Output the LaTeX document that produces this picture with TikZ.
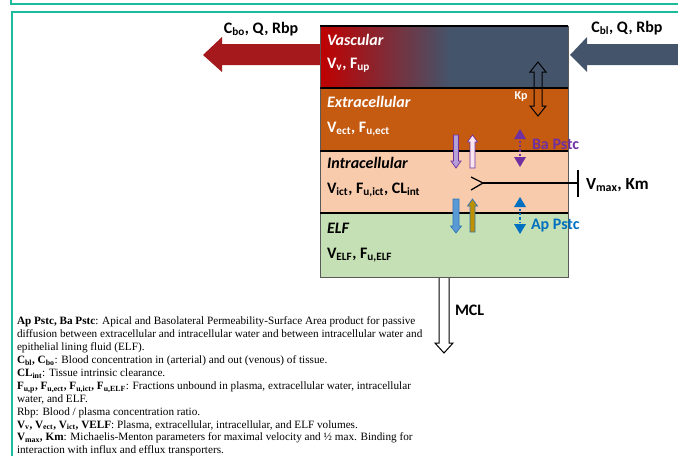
\documentclass[tikz,border=0pt]{standalone}
\usepackage{fontspec}
\setmainfont{Liberation Serif}
\newfontfamily\carl{Carlito}
\usetikzlibrary{arrows.meta}
\definecolor{frameteal}{HTML}{1ABC9C}
\definecolor{vascred}{HTML}{C00000}
\definecolor{slate}{HTML}{44546A}
\definecolor{arrowred}{HTML}{A5191C}
\definecolor{extraorange}{HTML}{C55A11}
\definecolor{intrapeach}{HTML}{F8CBAD}
\definecolor{elfgreen}{HTML}{C5E0B4}
\definecolor{pstcpurple}{HTML}{7030A0}
\definecolor{pstcblue}{HTML}{0070C0}
\definecolor{lavender}{HTML}{B4A0D8}
\definecolor{palepink}{HTML}{FBE5EE}
\definecolor{midblue}{HTML}{5B9BD5}
\definecolor{darkblue}{HTML}{2E75B6}
\definecolor{ochre}{HTML}{BF9000}
\begin{document}
\begin{tikzpicture}[x=1pt,y=-1pt,
  every node/.style={inner sep=0pt, outer sep=0pt},
  boxtitle/.style={anchor=west, font=\carl\bfseries\itshape\fontsize{16}{19}\selectfont},
  boxvar/.style={anchor=west, font=\carl\bfseries\fontsize{16}{19}\selectfont},
  flowlabel/.style={font=\carl\bfseries\fontsize{16}{19}\selectfont},
  divider/.style={line width=1.8pt, black},
  frameline/.style={line width=2pt, frameteal},
  hollow/.style={draw=black, line width=1pt, line join=miter},
  pstcline/.style={line width=2.2pt, dotted},
]
\useasboundingbox (0,0) rectangle (678,456);
% frames
\draw[frameline] (10.5,0) -- (10.5,4) -- (678,4);
\draw[frameline] (678,11.5) -- (11.5,11.5) -- (11.5,456);

% layers
\shade[left color=vascred, right color=slate] (320,26) rectangle (450,88);
\fill[slate] (449.5,26) rectangle (568,88);
\fill[extraorange] (320,88) rectangle (568,151);
\fill[intrapeach] (320,151) rectangle (568,213);
\fill[elfgreen] (320,213) rectangle (568,277);
\draw[gray!70!black, line width=0.8pt] (320,26) rectangle (568,277);
\draw[divider] (320,26) -- (568,26);
\draw[divider] (320,88) -- (568,88);
\draw[divider] (320,151) -- (568,151);
\draw[divider] (320,213) -- (568,213);

% big flow arrows
\fill[arrowred] (320,44) -- (222,44) -- (222,37) -- (203,55) -- (222,72) -- (222,65) -- (320,65) -- cycle;
\fill[slate] (678,44) -- (587,44) -- (587,37) -- (570,55) -- (587,72) -- (587,65) -- (678,65) -- cycle;
\node[flowlabel] (cbo) at (261,29) {C\textsubscript{bo}, Q, Rbp};
\node[flowlabel] (cbl) at (627,28) {C\textsubscript{bl}, Q, Rbp};

% layer texts
\node[boxtitle, text=white] (vasc) at (327,40) {Vascular};
\node[boxvar, text=white] (vascvar) at (327,65) {V\textsubscript{v}, F\textsubscript{up}};
\node[boxtitle, text=white] (extra) at (327,102) {Extracellular};
\node[boxvar, text=white] (extravar) at (327,129) {V\textsubscript{ect}, F\textsubscript{u,ect}};
\node[boxtitle] (intra) at (327,163) {Intracellular};
\node[boxvar] (intravar) at (327,190) {V\textsubscript{ict}, F\textsubscript{u,ict}, CL\textsubscript{int}};
\node[boxtitle] (elf) at (327,228) {ELF};
\node[boxvar] (elfvar) at (327,255) {V\textsubscript{ELF}, F\textsubscript{u,ELF}};

% Kp double hollow arrow
\draw[hollow] (538,62) -- (546,72) -- (542,72) -- (542,106) -- (546,106) -- (538,116)
  -- (530,106) -- (534,106) -- (534,72) -- (530,72) -- cycle;
\node[font=\carl\bfseries\fontsize{12}{14}\selectfont, text=white] (kp) at (521,97) {Kp};

% purple transfer arrows (extra <-> intra)
\draw[draw=pstcpurple, fill=lavender, line width=0.7pt] (453.5,135) -- (458.5,135) -- (458.5,161) -- (461,161)
  -- (456,168) -- (451,161) -- (453.5,161) -- cycle;
\draw[draw=pstcpurple, fill=palepink, line width=0.7pt] (470,168) -- (475,168) -- (475,142) -- (477.5,142)
  -- (472.5,135) -- (467.5,142) -- (470,142) -- cycle;
% blue transfer arrows (intra <-> ELF)
\draw[draw=darkblue, fill=midblue, line width=0.7pt] (453,199) -- (459,199) -- (459,226) -- (461.5,226)
  -- (456,233) -- (450.5,226) -- (453,226) -- cycle;
\draw[draw=darkblue, fill=ochre, line width=0.7pt] (470,232) -- (475,232) -- (475,206) -- (477.5,206)
  -- (472.5,199) -- (467.5,206) -- (470,206) -- cycle;

% Ba Pstc
\fill[pstcpurple] (520,129) -- (526,139) -- (514,139) -- cycle;
\draw[pstcline, pstcpurple] (520,141) -- (520,156);
\fill[pstcpurple] (520,167) -- (526,157) -- (514,157) -- cycle;
\node[flowlabel, anchor=west, text=pstcpurple] (ba) at (532,144) {Ba Pstc};
% Ap Pstc
\fill[pstcblue] (520,197) -- (526,207) -- (514,207) -- cycle;
\draw[pstcline, pstcblue] (520,209) -- (520,223);
\fill[pstcblue] (520,234) -- (526,224) -- (514,224) -- cycle;
\node[flowlabel, anchor=west, text=pstcblue] (ap) at (531,226) {Ap Pstc};

% Vmax transporter
\coordinate (vtip) at (483,183);
\coordinate (vbar) at (578,183);
\draw[line width=1.3pt] (471,177) -- (vtip) -- (471,190);
\draw[line width=1.3pt] (vtip) -- (vbar);
\draw[line width=1.3pt] (578,170) -- (578,197);
\node[anchor=west, font=\carl\bfseries\fontsize{17}{20}\selectfont] (vmax) at (586,185) {V\textsubscript{max}, Km};

% MCL arrow
\draw[hollow, fill=white] (439,278) -- (439,343) -- (435,343) -- (444,353) -- (453,343) -- (449,343) -- (449,278);
\node[flowlabel, anchor=west] (mcl) at (455,310) {MCL};

% notes
\node[anchor=north west, align=left, font=\fontsize{11.2}{12.9}\selectfont] (notes) at (17,317) {%
\textbf{Ap Pstc, Ba Pstc}: Apical and Basolateral Permeability-Surface Area product for passive\\
diffusion between extracellular and intracellular water and between intracellular water and\\
epithelial lining fluid (ELF).\\
\textbf{C\textsubscript{bl}, C\textsubscript{bo}}: Blood concentration in (arterial) and out (venous) of tissue.\\
\textbf{CL\textsubscript{int}}: Tissue intrinsic clearance.\\
\textbf{F\textsubscript{u,p}, F\textsubscript{u,ect}, F\textsubscript{u,ict}, F\textsubscript{u,ELF}}: Fractions unbound in plasma, extracellular water, intracellular\\
water, and ELF.\\
Rbp: Blood / plasma concentration ratio.\\
\textbf{V\textsubscript{v}, V\textsubscript{ect}, V\textsubscript{ict}, VELF}: Plasma, extracellular, intracellular, and ELF volumes.\\
\textbf{V\textsubscript{max}, Km}: Michaelis-Menton parameters for maximal velocity and ½ max. Binding for\\
interaction with influx and efflux transporters.};
\end{tikzpicture}
\end{document}
